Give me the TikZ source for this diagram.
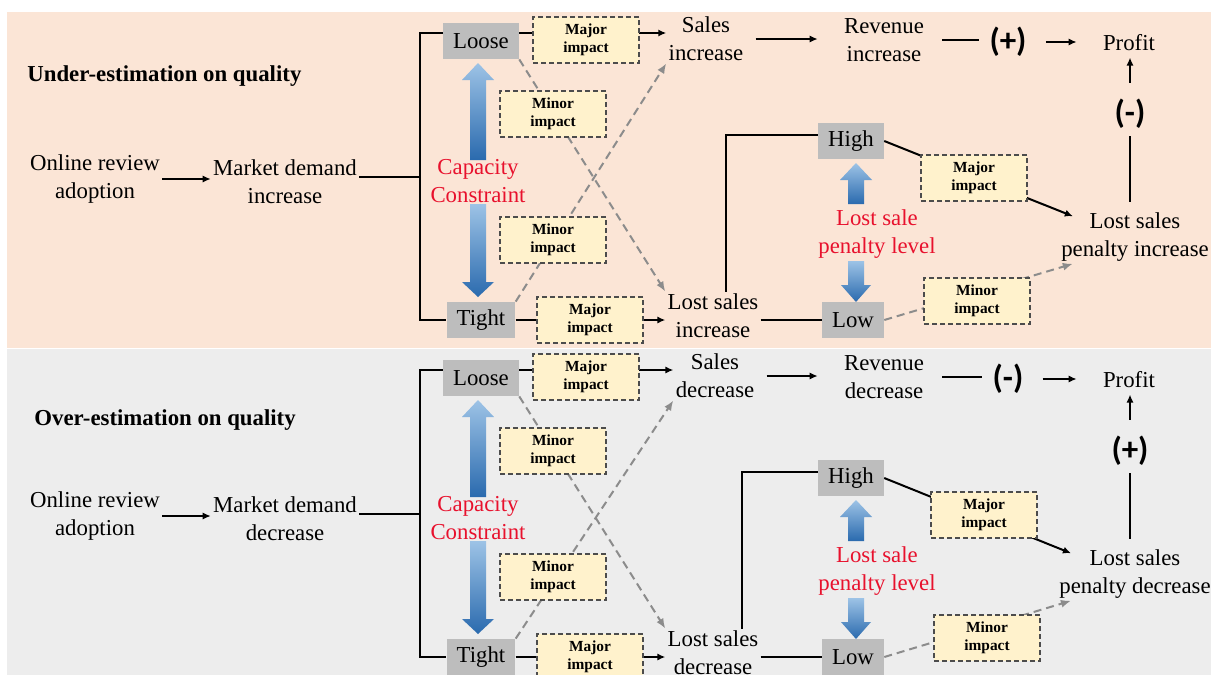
\documentclass[tikz,border=0pt]{standalone}
\usepackage{fontspec}
\setmainfont{Liberation Serif}
\newfontfamily\signfont{Carlito}
\usepackage{xcolor}
\usetikzlibrary{arrows.meta}

\definecolor{peach}{HTML}{FBE5D6}
\definecolor{panelgray}{HTML}{EDEDED}
\definecolor{lvlgray}{HTML}{BDBDBD}
\definecolor{impactyellow}{HTML}{FFF2CC}
\definecolor{capred}{HTML}{E8112D}
\definecolor{dashgray}{HTML}{8C8C8C}
\definecolor{bluelight}{HTML}{9DC3E6}
\definecolor{bluedark}{HTML}{2A6AAE}

\begin{document}
\begin{tikzpicture}[x=0.5pt,y=-0.5pt,
  txt/.style={align=center,inner sep=1pt,font=\fontsize{11.4}{14}\selectfont},
  level/.style={fill=lvlgray,inner xsep=5pt,inner ysep=0pt,minimum height=18pt,
                font=\fontsize{11.4}{14}\selectfont},
  impact/.style={draw=black!70,dash pattern=on 2.5pt off 1.5pt,line width=0.6pt,fill=impactyellow,
                 minimum width=53pt,minimum height=23pt,inner sep=0pt,align=center,
                 font=\bfseries\fontsize{7.7}{9}\selectfont},
  note/.style={txt,text=capred},
  sign/.style={inner sep=0pt,font=\signfont\bfseries\fontsize{16.5}{18}\selectfont},
  line/.style={draw,line width=1pt},
  link/.style={line,-{Latex[length=4pt,width=3.6pt]}},
  minor/.style={draw=dashgray,line width=1pt,dash pattern=on 4pt off 2.5pt,
                -{Latex[length=5pt,width=4pt]}},
  blk/.style={top color=bluelight,bottom color=bluedark,draw=none}]
\useasboundingbox (0,0) rectangle (1217,675);
\clip (0,0) rectangle (1217,675);

% one panel per estimation case, the lower one shifted down
\foreach \p/\dy/\bg/\head/\dir/\signa/\signb/\bx/\vx/\sx/\tshift in
  {a/0/peach/Under/increase/+/-/0/6.5/706/0,
   b/337/panelgray/Over/decrease/-/+/10/14.5/715/7}{
\begin{scope}[yshift={-\dy*0.5pt}]
\fill[\bg] (7,12) rectangle (1211,348);

\node[txt,anchor=west,font=\bfseries\fontsize{11.4}{14}\selectfont] (title-\p)
  at ({25+\tshift},{76+\tshift}) {\head-estimation on quality};
\node[txt] (online-\p) at (95,179) {Online review\\adoption};
\node[txt] (demand-\p) at (285,182) {Market demand\\\dir};
\node[level] (loose-\p) at (481,41) {Loose};
\node[level] (tight-\p) at (481,320) {Tight};
\node[note] (cap-\p) at (478,181) {Capacity\\Constraint};
\node[txt] (sales-\p) at (\sx,39) {Sales\\\dir};
\node[txt] (lost-\p) at (713,316) {Lost sales\\\dir};
\node[txt] (rev-\p) at (884,40) {Revenue\\\dir};
\node[sign] (signA-\p) at (1008,42) {(\signa)};
\node[txt] (profit-\p) at (1129,43) {Profit};
\node[sign] (signB-\p) at (1130,114) {(\signb)};
\node[txt] (pen-\p) at (1135,237) {Lost sales\\penalty \dir};
\node[level] (high-\p) at (851,141) {High};
\node[level] (low-\p) at (853,320) {Low};
\node[note] (pnote-\p) at (877,234) {Lost sale\\penalty level};

% block arrows of the two levers
\path[blk] (470,160) -- (470,80) -- (462,80) -- (478,63) -- (494,80) -- (486,80) -- (486,160) -- cycle;
\path[blk] (470,204) -- (470,282) -- (462,282) -- (478,297) -- (494,282) -- (486,282) -- (486,204) -- cycle;
\path[blk] (848,204) -- (848,180) -- (840,180) -- (856,163) -- (872,180) -- (864,180) -- (864,204) -- cycle;
\path[blk] (848,261) -- (848,285) -- (841,285) -- (856,302) -- (871,285) -- (864,285) -- (864,261) -- cycle;

\coordinate (bus-\p) at (420,177);
\draw[link] (online-\p.east) -- (online-\p.east -| demand-\p.west);
\draw[line] (demand-\p.east |- bus-\p) -- (bus-\p);
\draw[line] ([yshift=4pt]loose-\p.west) -| (bus-\p) |- (tight-\p.west);
\draw[link] ([yshift=4pt]loose-\p.east) -- ([yshift=4pt]loose-\p.east -| sales-\p.west);
\draw[link] (tight-\p.east) -- (tight-\p.east -| lost-\p.west);
\draw[link,shorten <=5pt,shorten >=12pt] (sales-\p.east) -- (sales-\p.east -| rev-\p.west);
\draw[line,shorten <=8pt,shorten >=5pt] (rev-\p.east) -- (rev-\p.east -| signA-\p.west);
\draw[link,shorten <=9.5pt,shorten >=12pt] (signA-\p.east) -- (signA-\p.east -| profit-\p.west);
\draw[link,shorten <=8pt,shorten >=2pt] (signB-\p.north) -- (signB-\p.north |- profit-\p.south);
\draw[line,shorten <=3.5pt,shorten >=4pt] (signB-\p.south) -- (signB-\p.south |- pen-\p.north);
\draw[line] ([xshift=\vx*1pt]lost-\p.north) |- ([yshift=3pt]high-\p.west);
\draw[line] (low-\p.west -| lost-\p.east) -- (low-\p.west);
\draw[link] (high-\p.east) -- ([xshift=7pt,yshift=-3pt]pen-\p.north west);
% minor effects run behind the impact boxes
\draw[minor] (low-\p.east) -- ([xshift=7pt]pen-\p.south west);
\draw[minor] (loose-\p.south east) -- (lost-\p.north west);
\draw[minor] (tight-\p.north east) -- (sales-\p.south west);

\node[impact] (majL-\p) at (586,40) {Major\\impact};
\node[impact] (minU-\p) at (553,114) {Minor\\impact};
\node[impact] (minD-\p) at (553,240) {Minor\\impact};
\node[impact] (majT-\p) at (590,320) {Major\\impact};
\node[impact] (majH-\p) at ({974+\bx},178) {Major\\impact};
\node[impact] (minL-\p) at ({977+\bx},301) {Minor\\impact};
\end{scope}}
\end{tikzpicture}
\end{document}
